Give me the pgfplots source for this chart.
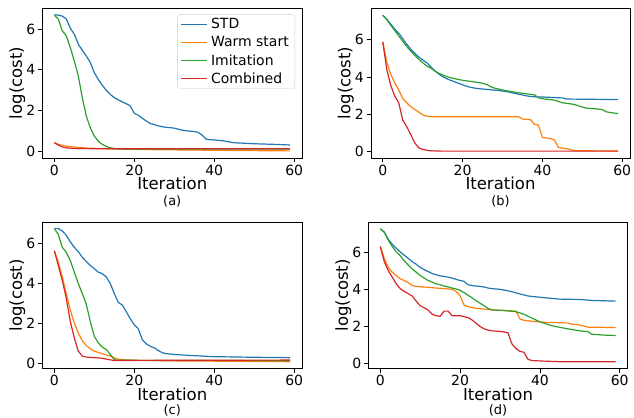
\documentclass[border=0pt]{standalone}
\usepackage{fontspec}
\setmainfont{DejaVu Sans}
\usepackage{pgfplots}
\pgfplotsset{compat=1.18}
\definecolor{tabblue}{HTML}{1F77B4}
\definecolor{taborange}{HTML}{FF7F0E}
\definecolor{tabgreen}{HTML}{2CA02C}
\definecolor{tabred}{HTML}{D62728}

\pgfplotsset{
  panel/.style={
    scale only axis, anchor=south west,
    xmin=-2.95, xmax=61.95,
    xtick={0,20,40,60}, ytick={0,2,4,6},
    xtick pos=left, ytick pos=left,
    tick align=outside, major tick length=4.5bp,
    axis line style={line width=0.8bp},
    every tick/.style={black, line width=0.8bp},
    /pgf/number format/assume math mode=true,
    tick label style={font=\fontsize{14bp}{16bp}\selectfont},
    xticklabel style={inner ysep=2bp},
    yticklabel style={inner xsep=2.5bp},
    xlabel={Iteration}, ylabel={log(cost)},
    label style={font=\fontsize{16.5bp}{19bp}\selectfont, inner sep=0pt},
    xlabel style={at={(axis description cs:0.5,0)}, anchor=center, yshift=-25.5bp},
    ylabel style={at={(axis description cs:-0.097,0.5)}, anchor=center},
    every axis plot/.append style={line width=1.2bp, line join=round},
    clip mode=individual,
  },
}
\tikzset{subcap/.style={font=\fontsize{13bp}{15bp}\selectfont, inner sep=0pt}}

\begin{document}
\begin{tikzpicture}
\useasboundingbox (0,0) rectangle (634bp,418bp);

% (a)
\begin{axis}[panel, at={(42.5bp,260bp)}, width=259.5bp, height=150bp,
  ymin=-0.34, ymax=7.04,
  legend style={at={(1,1)}, anchor=north east, xshift=-7bp, yshift=-6.5bp,
    draw=black!20, rounded corners=2bp, fill=white,
    font=\fontsize{14bp}{16bp}\selectfont, row sep=3.8bp,
    inner xsep=3bp, inner ysep=2.5bp,
    nodes={inner xsep=3bp, inner ysep=1.2bp}},
  legend cell align=left,
  legend image code/.code={\draw[#1, line width=1.4bp] (0bp,0bp) -- (26bp,0bp);},
]
\addplot[tabblue] coordinates {(0,6.70)(1,6.69)(2,6.64)(3,6.50)(4,6.05)(5,5.75)(6,5.26)(7,4.96)(8,4.68)(9,4.36)(10,3.86)(11,3.53)(12,3.24)(13,2.99)(14,2.79)(15,2.63)(16,2.52)(17,2.42)(18,2.33)(19,2.22)(20,1.86)(21,1.76)(22,1.62)(23,1.48)(24,1.36)(25,1.30)(26,1.24)(27,1.20)(28,1.17)(29,1.15)(30,1.13)(31,1.08)(32,1.03)(33,1.00)(34,0.98)(35,0.96)(36,0.92)(37,0.78)(38,0.58)(39,0.56)(40,0.55)(41,0.53)(42,0.51)(43,0.48)(44,0.44)(45,0.41)(46,0.40)(48,0.38)(50,0.36)(52,0.35)(55,0.33)(59,0.30)};
\addlegendentry{STD}
\addplot[taborange] coordinates {(0,0.41)(1,0.33)(2,0.28)(3,0.24)(5,0.20)(8,0.15)(12,0.12)(16,0.10)(25,0.07)(35,0.05)(45,0.03)(59,0.01)};
\addlegendentry{Warm start}
\addplot[tabgreen] coordinates {(0,6.70)(1,6.49)(2,5.92)(3,5.67)(4,5.10)(5,4.44)(6,3.70)(7,2.63)(8,1.73)(9,1.15)(10,0.74)(11,0.49)(12,0.33)(13,0.23)(14,0.16)(15,0.13)(16,0.11)(20,0.10)(59,0.10)};
\addlegendentry{Imitation}
\addplot[tabred] coordinates {(0,0.41)(1,0.30)(2,0.20)(3,0.16)(5,0.13)(8,0.12)(59,0.11)};
\addlegendentry{Combined}
\node[subcap] at (axis description cs:0.5,0) [yshift=-43bp] {(a)};
\end{axis}

% (b)
\begin{axis}[panel, at={(371bp,260bp)}, width=259bp, height=150bp,
  ymin=-0.37, ymax=7.72]
\addplot[tabblue] coordinates {(0,7.33)(1,7.12)(2,6.85)(3,6.58)(4,6.36)(5,6.07)(6,5.77)(7,5.50)(8,5.28)(9,5.08)(10,4.92)(11,4.77)(12,4.55)(13,4.35)(14,4.16)(15,4.02)(16,3.91)(17,3.82)(18,3.74)(19,3.66)(20,3.58)(21,3.50)(22,3.44)(23,3.40)(24,3.37)(25,3.35)(26,3.33)(27,3.31)(28,3.29)(29,3.27)(30,3.24)(31,3.21)(32,3.17)(33,3.12)(34,3.07)(35,3.03)(36,2.98)(37,2.95)(38,2.93)(40,2.92)(42,2.90)(44,2.88)(45,2.87)(46,2.81)(50,2.80)(55,2.79)(59,2.78)};
\addplot[taborange] coordinates {(0,5.89)(1,4.81)(2,4.14)(3,3.69)(4,3.30)(5,2.83)(6,2.61)(7,2.40)(8,2.25)(9,2.11)(10,1.96)(11,1.89)(12,1.86)(15,1.85)(34,1.85)(35,1.73)(37,1.70)(38,1.45)(39,1.40)(40,0.74)(42,0.68)(43,0.60)(44,0.20)(46,0.13)(47,0.09)(48,0.02)(59,0.01)};
\addplot[tabgreen] coordinates {(0,7.33)(1,7.10)(2,6.79)(3,6.50)(4,6.22)(5,5.93)(6,5.64)(7,5.40)(8,5.17)(9,4.96)(10,4.77)(11,4.59)(12,4.49)(13,4.32)(14,4.20)(15,4.11)(16,4.02)(18,3.91)(20,3.82)(22,3.76)(24,3.70)(25,3.66)(26,3.60)(27,3.48)(28,3.40)(30,3.30)(32,3.22)(34,3.15)(36,3.09)(38,3.04)(39,2.87)(41,2.80)(43,2.75)(44,2.68)(45,2.61)(48,2.52)(50,2.38)(51,2.32)(54,2.27)(55,2.24)(56,2.12)(58,2.05)(59,2.03)};
\addplot[tabred] coordinates {(0,5.89)(1,4.41)(2,3.55)(3,2.97)(4,2.61)(5,1.68)(6,1.32)(7,0.90)(8,0.45)(9,0.18)(10,0.09)(11,0.05)(12,0.02)(15,0.00)(59,0.00)};
\node[subcap] at (axis description cs:0.5,0) [yshift=-43bp] {(b)};
\end{axis}

% (c)
\begin{axis}[panel, at={(42.5bp,49.5bp)}, width=259.5bp, height=146.5bp,
  ymin=-0.26, ymax=7.05]
\addplot[tabblue] coordinates {(0,6.72)(1,6.72)(2,6.60)(3,6.39)(4,6.06)(5,5.79)(6,5.57)(7,5.29)(8,5.08)(9,4.88)(10,4.72)(11,4.55)(12,4.47)(13,4.31)(14,3.98)(15,3.48)(16,3.04)(17,2.91)(18,2.58)(19,2.22)(20,1.92)(21,1.73)(22,1.18)(23,0.97)(24,0.85)(25,0.77)(26,0.64)(27,0.53)(28,0.48)(30,0.44)(35,0.38)(40,0.33)(50,0.30)(59,0.28)};
\addplot[taborange] coordinates {(0,5.62)(1,5.05)(2,4.31)(3,3.48)(4,2.66)(5,2.00)(6,1.51)(7,1.13)(8,0.89)(9,0.72)(10,0.61)(11,0.54)(12,0.48)(13,0.41)(14,0.36)(15,0.28)(16,0.21)(17,0.18)(20,0.15)(30,0.12)(45,0.10)(59,0.08)};
\addplot[tabgreen] coordinates {(0,6.72)(1,6.44)(2,5.79)(3,5.54)(4,5.13)(5,4.55)(6,3.98)(7,3.48)(8,2.94)(9,2.09)(10,1.35)(11,1.02)(12,0.81)(13,0.69)(14,0.44)(15,0.18)(16,0.15)(30,0.14)(59,0.13)};
\addplot[tabred] coordinates {(0,5.62)(1,4.88)(2,4.14)(3,3.24)(4,2.09)(5,1.27)(6,0.61)(7,0.36)(8,0.31)(10,0.28)(12,0.25)(14,0.17)(15,0.14)(30,0.15)(59,0.16)};
\node[subcap] at (axis description cs:0.5,0) [yshift=-41.5bp] {(c)};
\end{axis}

% (d)
\begin{axis}[panel, at={(368.5bp,49.5bp)}, width=259bp, height=146.5bp,
  ymin=-0.28, ymax=7.66]
\addplot[tabblue] coordinates {(0,7.29)(1,7.11)(2,6.72)(3,6.45)(4,6.24)(5,6.04)(6,5.86)(7,5.69)(8,5.51)(9,5.37)(10,5.20)(11,5.08)(12,4.97)(13,4.87)(14,4.80)(15,4.74)(16,4.71)(17,4.67)(18,4.62)(19,4.55)(20,4.49)(21,4.44)(22,4.26)(23,4.21)(24,4.19)(25,4.17)(26,4.14)(27,4.08)(28,4.05)(30,4.01)(32,3.93)(33,3.88)(35,3.76)(37,3.65)(40,3.58)(43,3.52)(45,3.48)(50,3.46)(53,3.41)(59,3.37)};
\addplot[taborange] coordinates {(0,6.33)(1,5.69)(2,5.20)(3,4.94)(4,4.76)(5,4.58)(6,4.49)(7,4.37)(8,4.22)(9,4.17)(10,4.15)(12,4.12)(14,4.08)(16,4.05)(18,4.01)(19,3.90)(20,3.65)(21,3.16)(22,3.07)(24,2.98)(26,2.94)(28,2.90)(30,2.88)(34,2.83)(35,2.40)(36,2.33)(39,2.26)(42,2.22)(47,2.19)(48,2.12)(50,2.08)(52,1.96)(59,1.94)};
\addplot[tabgreen] coordinates {(0,7.29)(1,7.11)(2,6.68)(3,6.33)(4,6.04)(5,5.83)(6,5.56)(7,5.33)(8,5.12)(9,4.94)(10,4.76)(11,4.62)(12,4.49)(13,4.40)(14,4.31)(15,4.26)(16,4.19)(17,4.14)(18,4.08)(19,4.03)(20,3.96)(21,3.83)(22,3.69)(23,3.55)(24,3.40)(25,3.26)(26,3.12)(27,2.98)(28,2.89)(31,2.86)(34,2.80)(36,2.66)(38,2.45)(40,2.25)(43,2.04)(45,1.95)(47,1.87)(50,1.76)(52,1.72)(53,1.58)(56,1.53)(59,1.51)};
\addplot[tabred] coordinates {(0,6.33)(1,5.51)(2,5.03)(3,4.67)(4,4.31)(5,4.05)(6,3.90)(7,3.78)(8,3.65)(9,3.37)(10,3.12)(11,3.01)(12,2.89)(13,2.66)(14,2.58)(15,2.55)(16,2.83)(17,2.83)(18,2.58)(19,2.58)(20,2.58)(21,2.53)(22,2.48)(23,2.35)(24,2.17)(25,2.00)(26,1.87)(27,1.80)(28,1.76)(30,1.73)(31,1.70)(32,1.66)(33,1.05)(34,0.80)(35,0.65)(36,0.60)(37,0.22)(38,0.15)(41,0.12)(45,0.09)(59,0.09)};
\node[subcap] at (axis description cs:0.5,0) [yshift=-41.5bp] {(d)};
\end{axis}
\end{tikzpicture}
\end{document}
